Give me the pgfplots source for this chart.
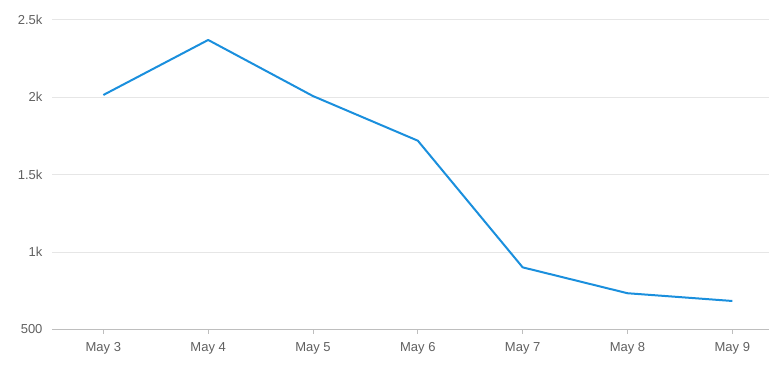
\documentclass[border=0pt]{standalone}
\usepackage{pgfplots}
\pgfplotsset{compat=1.18}
\usepackage{fontspec}
\setmainfont{Liberation Sans}
\definecolor{linecol}{RGB}{26,143,221}
\definecolor{gridcol}{RGB}{230,230,230}
\definecolor{axcol}{RGB}{190,190,190}
\definecolor{txtcol}{RGB}{96,96,96}
\begin{document}
\begin{tikzpicture}
\useasboundingbox (-52bp,-42.5bp) rectangle (717bp,329.5bp);
\begin{axis}[
  at={(0,0)}, anchor=south west,
  scale only axis,
  width=717bp, height=310bp,
  xmin=-0.49, xmax=6.35,
  ymin=500, ymax=2500,
  xtick={0,...,6},
  xticklabels={May 3,May 4,May 5,May 6,May 7,May 8,May 9},
  ytick={500,1000,1500,2000,2500},
  yticklabels={500,1k,1.5k,2k,2.5k},
  axis x line*=bottom,
  axis y line*=left,
  y axis line style={draw=none},
  ytick style={draw=none},
  x axis line style={draw=axcol, line width=0.8bp, -},
  xtick style={draw=axcol, line width=0.8bp},
  tick align=outside,
  major tick length=4bp,
  ymajorgrids,
  grid style={draw=gridcol, line width=0.8bp},
  ticklabel style={font=\fontsize{13bp}{15bp}\selectfont, text=txtcol},
  yticklabel style={xshift=-2bp},
  xticklabel style={anchor=north, text height=9.5bp, text depth=3bp, yshift=-5bp},
  clip=false,
]
\addplot[color=linecol, line width=2bp, line join=round] coordinates {
  (0,2013) (1,2368) (2,2006) (3,1718) (4,901) (5,734) (6,684)
};
\end{axis}
\end{tikzpicture}
\end{document}
